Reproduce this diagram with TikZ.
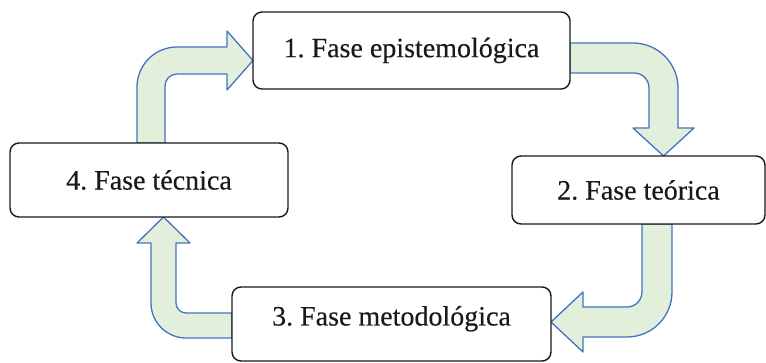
\documentclass[tikz,border=0pt]{standalone}
\usepackage{fontspec}
\setmainfont{Liberation Serif}[FakeBold=0.3]
\usetikzlibrary{backgrounds}
\definecolor{arrowline}{RGB}{68,114,196}
\definecolor{arrowfill}{RGB}{226,239,218}
\definecolor{boxline}{RGB}{25,25,25}
\begin{document}
\frenchspacing
\begin{tikzpicture}[x=1pt,y=1pt,
  phase/.style={draw=boxline, line width=1.4pt, fill=white, rounded corners=9pt,
    inner sep=0pt, text=black!90, font=\fontsize{28}{30}\selectfont},
  blockarrow/.style={draw=arrowline, line width=1.3pt, fill=arrowfill, line join=round}]
\useasboundingbox (0,0) rectangle (766,363);
\node[phase, minimum width=317pt, minimum height=77pt] (b1) at (411.5,312.5) {1. Fase epistemológica};
\node[phase, minimum width=253pt, minimum height=68pt] (b2) at (638.5,173) {2. Fase teórica};
\node[phase, minimum width=319pt, minimum height=74pt, text height=19pt, text depth=16pt] (b3) at (391.5,39) {3. Fase metodológica};
\node[phase, minimum width=278pt, minimum height=74pt] (b4) at (149,183) {4. Fase técnica};
\begin{scope}[on background layer]
% 4 -> 1
\draw[blockarrow] (137,220) -- (137,276) arc[start angle=180,end angle=90,radius=40]
  -- (227,316) -- (227,332) -- (253,302.5) -- (227,273) -- (227,289) -- (177,289)
  arc[start angle=90,end angle=180,radius=12] -- (165,220) -- cycle;
% 1 -> 2
\draw[blockarrow] (570,320) -- (633,320) arc[start angle=90,end angle=0,radius=45]
  -- (678,235) -- (694,235) -- (663.5,207) -- (633,235) -- (649,235) -- (649,275)
  arc[start angle=0,end angle=90,radius=15] -- (570,290) -- cycle;
% 2 -> 3
\draw[blockarrow] (642,139) -- (642,71) arc[start angle=0,end angle=-90,radius=15]
  -- (583,56) -- (583,71) -- (551,41) -- (583,11) -- (583,26) -- (627,26)
  arc[start angle=-90,end angle=0,radius=45] -- (672,139) -- cycle;
% 3 -> 4
\draw[blockarrow] (232,50) -- (186,50) arc[start angle=-90,end angle=-180,radius=10]
  -- (176,120) -- (190,120) -- (163.5,146) -- (137,120) -- (151,120) -- (151,60)
  arc[start angle=180,end angle=270,radius=35] -- (232,25) -- cycle;
\end{scope}
\end{tikzpicture}
\end{document}
